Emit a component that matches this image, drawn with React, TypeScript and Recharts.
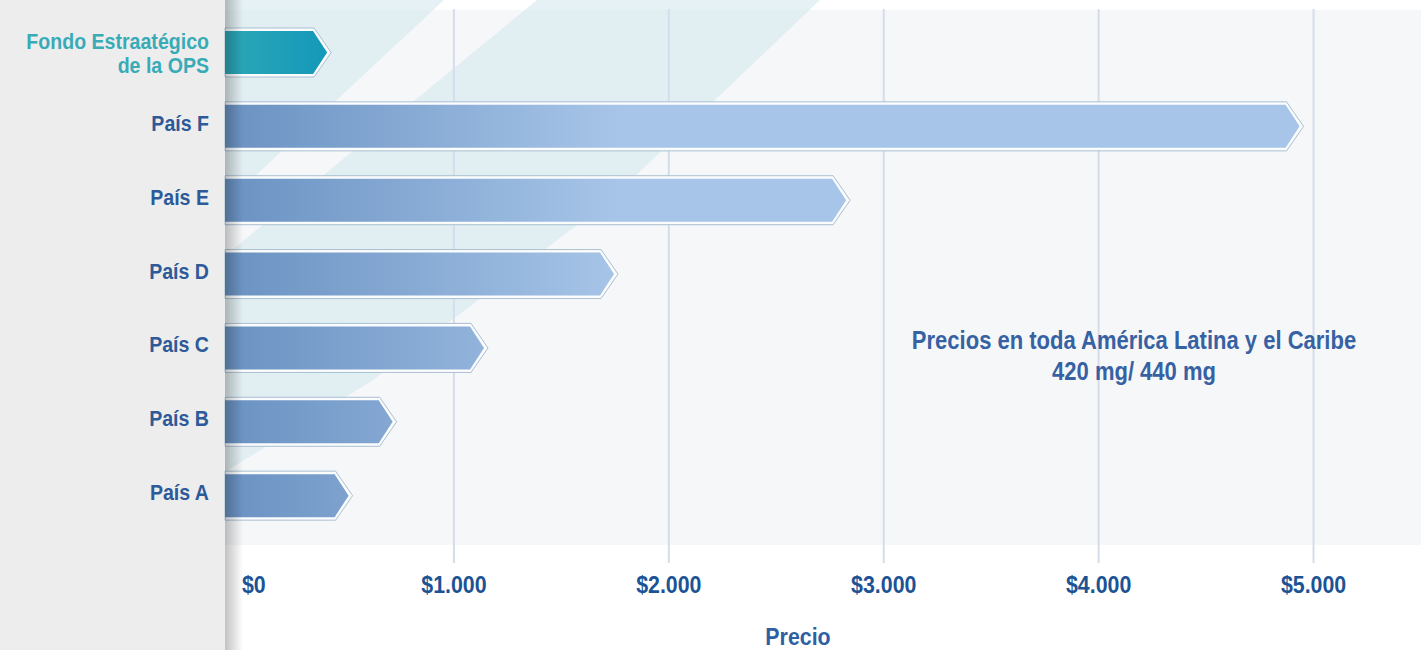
import React from 'react';
import { BarChart, Bar, XAxis, YAxis, CartesianGrid } from 'recharts';

const categories = [
  'Fondo Estraatégico\nde la OPS',
  'País F',
  'País E',
  'País D',
  'País C',
  'País B',
  'País A',
];
const prices = [410, 4935, 2825, 1745, 1140, 715, 510];
const xTicks = [0, 1000, 2000, 3000, 4000, 5000];
const xTickLabels = ['$0', '$1.000', '$2.000', '$3.000', '$4.000', '$5.000'];

const data = categories.map((name, i) => ({ name, price: prices[i] }));

const FONT = "'Liberation Sans', Arial, sans-serif";
const NARROW = 0.89; // squeeze to look like a condensed face
const TEAL = '#38abb7';
const BLUE = '#2d5a98';
const NAVY = '#1c5395';

const CategoryTick = ({ x, y, payload }: any) => {
  const lines: string[] = String(payload.value).split('\n');
  const first = 4 - (lines.length - 1) * 8;
  const color = payload.value === categories[0] ? TEAL : BLUE;
  return (
    <g transform={`translate(${x - 30},${y}) scale(${NARROW},1)`}>
      <text x={0} y={first} textAnchor="end" fill={color} fontFamily={FONT} fontWeight="bold" fontSize={22}>
        {lines.map((l, i) => (
          <tspan key={i} x={0} y={first + i * 24}>
            {l}
          </tspan>
        ))}
      </text>
    </g>
  );
};

const PriceTick = ({ x, y, payload, index }: any) => {
  const isZero = payload.value === 0;
  return (
    <g transform={`translate(${isZero ? x + 3 : x},${y + 60}) scale(${NARROW},1)`}>
      <text
        x={0}
        y={0}
        textAnchor={isZero ? 'start' : 'middle'}
        fill={NAVY}
        fontFamily={FONT}
        fontWeight="bold"
        fontSize={24}
      >
        {xTickLabels[index] ?? payload.value}
      </text>
    </g>
  );
};

const PrecioLabel = ({ viewBox }: any) => {
  const cx = viewBox.x + viewBox.width / 2 - 32;
  return (
    <g transform={`translate(${cx},${viewBox.y + 112}) scale(${NARROW},1)`}>
      <text x={0} y={0} textAnchor="middle" fill="#2f5fa3" fontFamily={FONT} fontWeight="bold" fontSize={24}>
        Precio
      </text>
    </g>
  );
};

// arrow-shaped bar with a white gap and a thin outline around it
const ArrowBar = (props: any) => {
  const { x, y, width, height, payload } = props;
  const x0 = x - 14;
  const tip = x + width;
  const d = 14;
  const o = 3;
  const outer = `${x0},${y - o} ${tip - d + 1},${y - o} ${tip + o + 1},${y + height / 2} ${tip - d + 1},${y + height + o} ${x0},${y + height + o}`;
  const inner = `${x0},${y} ${tip - d},${y} ${tip},${y + height / 2} ${tip - d},${y + height} ${x0},${y + height}`;
  const fill = payload.name === categories[0] ? 'url(#fondoGrad)' : 'url(#paisGrad)';
  return (
    <g>
      <polygon points={outer} fill="#fbfcfd" stroke="#a9bfd1" strokeWidth={1} />
      <polygon points={inner} fill={fill} />
    </g>
  );
};

const GridLine = (props: any) => {
  const left = props.x1 <= props.x + 1;
  const right = props.x1 >= props.x + props.width - 1;
  if (left || right) return <g key={props.key} />;
  return (
    <line
      key={props.key}
      x1={props.x1}
      x2={props.x2}
      y1={props.y1 - 7}
      y2={props.y2 + 30}
      stroke="#d5ddea"
      strokeWidth={2}
    />
  );
};

const Background = () => (
  <svg width={1421} height={650} style={{ position: 'absolute', left: 0, top: 0 }}>
    <rect x={0} y={0} width={1421} height={650} fill="#ffffff" />
    <rect x={225} y={10} width={1196} height={535} fill="#f6f7f9" />
    <polygon points="225,0 444,0 225,204" fill="#d3e8ec" opacity={0.6} />
    <polygon points="537,0 820,0 610,200 373,380 225,472 225,256" fill="#d3e8ec" opacity={0.6} />
    <rect x={0} y={0} width={225} height={650} fill="#ededed" />
  </svg>
);

export default function App() {
  return (
    <div style={{ position: 'relative', width: 1421, height: 650, overflow: 'hidden' }}>
      <style>{'body{margin:0}'}</style>
      <Background />
      <div style={{ position: 'absolute', left: 0, top: 0 }}>
        <BarChart
          width={1421}
          height={650}
          data={data}
          layout="vertical"
          margin={{ top: 16, right: 0, bottom: 0, left: 0 }}
        >
          <defs>
            <linearGradient id="paisGrad" gradientUnits="userSpaceOnUse" x1={225} y1={0} x2={620} y2={0}>
              <stop offset="0" stopColor="#6a92c2" />
              <stop offset="1" stopColor="#a7c5e8" />
            </linearGradient>
            <linearGradient id="fondoGrad" x1="0" y1="0" x2="1" y2="0">
              <stop offset="0" stopColor="#2ca7b6" />
              <stop offset="1" stopColor="#1499ba" />
            </linearGradient>
          </defs>
          <CartesianGrid horizontal={false} vertical={GridLine} />
          <XAxis
            type="number"
            domain={[0, 5500]}
            ticks={xTicks}
            axisLine={false}
            tickLine={false}
            tickSize={0}
            tickMargin={0}
            height={117}
            tick={PriceTick}
            label={{ content: PrecioLabel }}
          />
          <YAxis
            type="category"
            dataKey="name"
            width={239}
            axisLine={false}
            tickLine={false}
            tickSize={0}
            tickMargin={0}
            tick={CategoryTick}
            interval={0}
          />
          <Bar dataKey="price" barSize={43} shape={ArrowBar} isAnimationActive={false} />
        </BarChart>
      </div>
      <div
        style={{
          position: 'absolute',
          left: 225,
          top: 0,
          width: 18,
          height: 650,
          background: 'linear-gradient(to right, rgba(0,0,0,0.24), rgba(0,0,0,0))',
          pointerEvents: 'none',
        }}
      />
      <div
        style={{
          position: 'absolute',
          left: 834,
          top: 325,
          width: 600,
          textAlign: 'center',
          color: '#3662a3',
          fontFamily: FONT,
          fontWeight: 'bold',
          fontSize: 25,
          lineHeight: '31px',
          transform: 'scaleX(0.88)',
          transformOrigin: 'center',
        }}
      >
        Precios en toda América Latina y el Caribe
        <br />
        420 mg/ 440 mg
      </div>
    </div>
  );
}
